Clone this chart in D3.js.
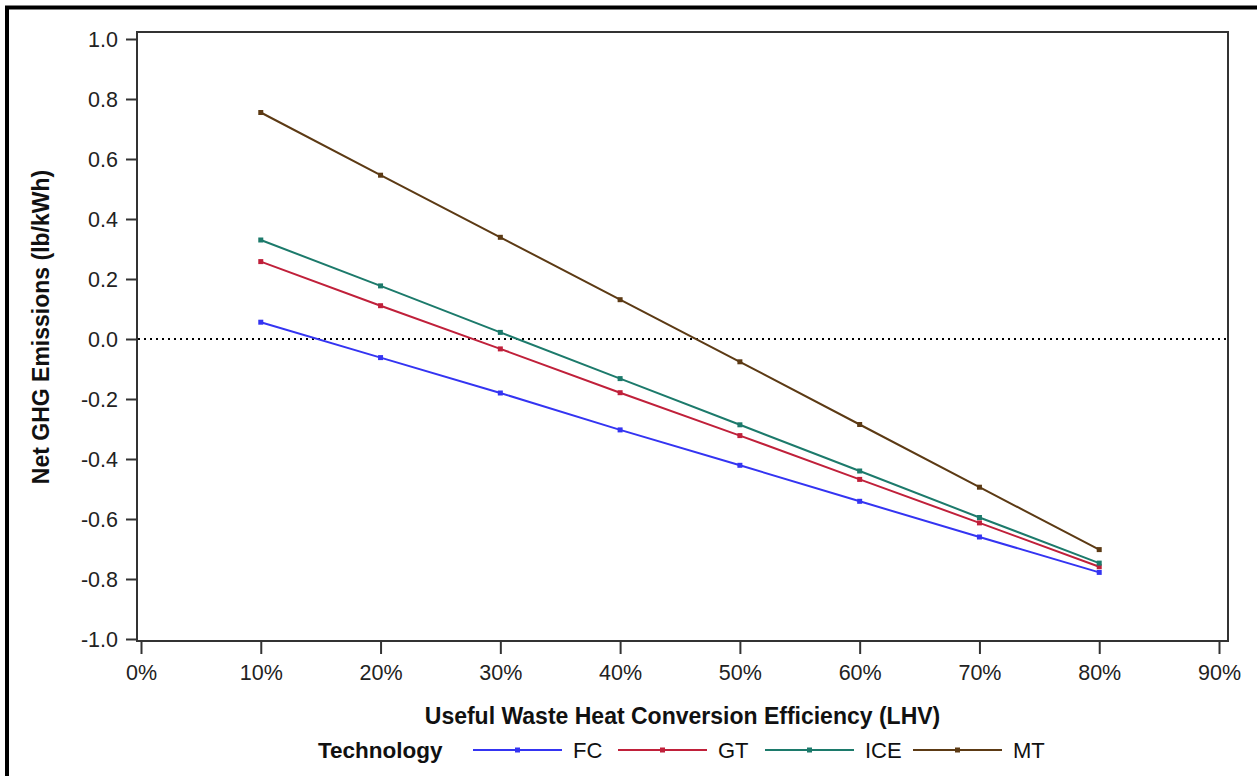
<!DOCTYPE html>
<html>
<head>
<meta charset="utf-8">
<script src="https://cdn.jsdelivr.net/npm/d3@7"></script>
<style>
  body { margin: 0; background: #fff; }
  svg { display: block; font-family: Arial, "Liberation Sans", sans-serif; }
  .axis text { font-size: 21.5px; fill: #222; }
  .axis path, .axis line { stroke: #333; stroke-width: 2; }
  .title { font-size: 23px; font-weight: bold; fill: #111; }
  .legend text { font-size: 22px; fill: #111; }
  .legend text.title { font-size: 22.5px; }
</style>
</head>
<body>
<svg width="1257" height="776"></svg>
<script>
// DATA
const efficiency = [10, 20, 30, 40, 50, 60, 70, 80]
const technologies = ["FC", "GT", "ICE", "MT"]
const colors = ["#3434f2", "#c0203a", "#1c7a6b", "#5c3a14"]

const fcValues = [0.056, -0.062, -0.180, -0.303, -0.421, -0.541, -0.660, -0.778]
const gtValues = [0.258, 0.111, -0.033, -0.179, -0.322, -0.468, -0.613, -0.759]
const iceValues = [0.330, 0.177, 0.022, -0.132, -0.286, -0.440, -0.595, -0.747]
const mtValues = [0.755, 0.546, 0.339, 0.131, -0.076, -0.285, -0.494, -0.702]

const xTicks = [0, 10, 20, 30, 40, 50, 60, 70, 80, 90]
const yTicks = [-1.0, -0.8, -0.6, -0.4, -0.2, 0.0, 0.2, 0.4, 0.6, 0.8, 1.0]

const series = [fcValues, gtValues, iceValues, mtValues].map((values, i) => {
  return {
    name: technologies[i],
    color: colors[i],
    points: values.map((v, j) => { return { x: efficiency[j], y: v } })
  }
})

// SETUP
const svg = d3.select("svg")

// outer border
svg
  .append("rect")
  .attr("x", 7)
  .attr("y", 7.5)
  .attr("width", 1300)
  .attr("height", 900)
  .attr("fill", "none")
  .attr("stroke", "#000")
  .attr("stroke-width", 4)

const frame = { left: 137, right: 1228, top: 32, bottom: 641 }

const scaleX = d3.scaleLinear()
  .domain([0, 90])
  .range([141, 1219])

const scaleY = d3.scaleLinear()
  .domain([-1, 1])
  .range([639, 39])

// plot frame
svg
  .append("rect")
  .attr("x", frame.left)
  .attr("y", frame.top)
  .attr("width", frame.right - frame.left)
  .attr("height", frame.bottom - frame.top)
  .attr("fill", "none")
  .attr("stroke", "#333")
  .attr("stroke-width", 2)

const axisX = d3.axisBottom(scaleX)
  .tickValues(xTicks)
  .tickSizeInner(12)
  .tickSizeOuter(0)
  .tickPadding(11)
  .tickFormat((d) => { return d + "%" })

svg
  .append("g")
  .attr("class", "axis x-axis")
  .attr("transform", `translate(0, ${frame.bottom + 1})`)
  .call(axisX)
  .call((g) => g.select(".domain").remove())

const axisY = d3.axisLeft(scaleY)
  .tickValues(yTicks)
  .tickSizeInner(11)
  .tickSizeOuter(0)
  .tickPadding(8)
  .tickFormat((d) => { return d3.format(".1f")(d).replace("−", "-") })

svg
  .append("g")
  .attr("class", "axis y-axis")
  .attr("transform", `translate(${frame.left}, 0)`)
  .call(axisY)
  .call((g) => g.select(".domain").remove())

svg.selectAll(".y-axis .tick text").attr("dy", "0.36em")

// zero reference line
svg
  .append("line")
  .attr("x1", frame.left + 1)
  .attr("x2", frame.right - 1)
  .attr("y1", scaleY(0))
  .attr("y2", scaleY(0))
  .attr("stroke", "#000")
  .attr("stroke-width", 2)
  .attr("stroke-dasharray", "2 4")

// axis titles
svg
  .append("text")
  .attr("class", "title")
  .attr("text-anchor", "middle")
  .attr("transform", `translate(${(frame.left + frame.right) / 2}, 724)`)
  .text("Useful Waste Heat Conversion Efficiency (LHV)")

svg
  .append("text")
  .attr("class", "title")
  .attr("text-anchor", "middle")
  .attr("transform", "translate(49, 327) rotate(-90)")
  .text("Net GHG Emissions (lb/kWh)")

// LINES
const line = d3.line()
  .x((d) => { return scaleX(d.x) })
  .y((d) => { return scaleY(d.y) })

const techs = svg
  .selectAll("g.tech")
  .data(series)
  .enter()
    .append("g")
  .attr("class", "tech")

techs
  .append("path")
  .attr("d", (d) => { return line(d.points) })
  .attr("fill", "none")
  .attr("stroke", (d) => { return d.color })
  .attr("stroke-width", 2)

techs
  .selectAll("rect")
  .data((d) => { return d.points.map((p) => { return { ...p, color: d.color } }) })
  .enter()
    .append("rect")
  .attr("x", (d) => { return scaleX(d.x) - 2.5 })
  .attr("y", (d) => { return scaleY(d.y) - 2.5 })
  .attr("width", 5)
  .attr("height", 5)
  .attr("fill", (d) => { return d.color })

// LEGEND
const legend = svg
  .append("g")
  .attr("class", "legend")
  .attr("transform", "translate(0, 750)")

legend
  .append("text")
  .attr("class", "title")
  .attr("x", 318)
  .attr("dy", "0.36em")
  .text("Technology")

const legendX = [473, 618, 765, 913]

const items = legend
  .selectAll("g.item")
  .data(series)
  .enter()
    .append("g")
  .attr("class", "item")
  .attr("transform", (d, i) => { return `translate(${legendX[i]}, 0)` })

items
  .append("line")
  .attr("x1", 0)
  .attr("x2", 89)
  .attr("stroke", (d) => { return d.color })
  .attr("stroke-width", 2)

items
  .append("rect")
  .attr("x", 42)
  .attr("y", -2.5)
  .attr("width", 5)
  .attr("height", 5)
  .attr("fill", (d) => { return d.color })

items
  .append("text")
  .attr("x", 100)
  .attr("dy", "0.36em")
  .text((d) => { return d.name })
</script>
</body>
</html>
